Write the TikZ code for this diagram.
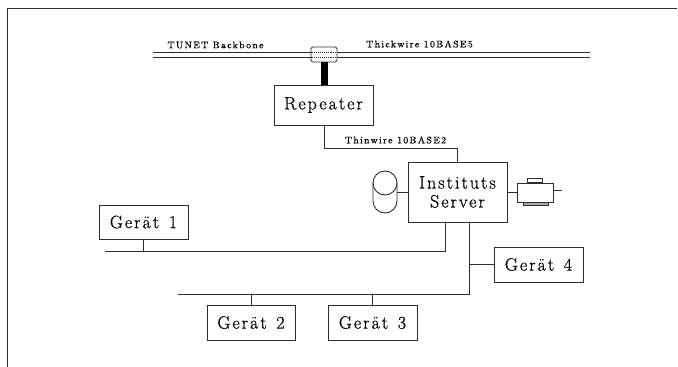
\documentclass[tikz,border=0pt]{standalone}
\usepackage{fontspec}
\usepackage{xcolor}
\usepackage{tikz}
\newfontfamily\boxfont[LetterSpace=11,WordSpace=1.3,FakeBold=0.6]{Latin Modern Roman}
\newfontfamily\wirefont[LetterSpace=14,FakeBold=0.5]{Latin Modern Roman}
\definecolor{scanink}{RGB}{45, 45, 45}
\tikzset{
    wire/.style={draw=scanink, line width=0.9pt},
    devicebox/.style={draw=scanink, line width=0.9pt, inner sep=0pt, text=black, font=\boxfont\fontsize{18}{19}\selectfont},
    wirelabel/.style={inner sep=0pt, text=black, font=\wirefont\fontsize{9.5}{11}\selectfont}
}

\begin{document}
\begin{tikzpicture}[x=1pt, y=-1pt]

\useasboundingbox (0,0) rectangle (678,367);

% Page frame
\coordinate (frametop) at (677,8);
\coordinate (framecorner) at (7,8);
\coordinate (framebottom) at (7,367);
\draw[wire] (frametop) -- (framecorner) -- (framebottom);

% Backbone
\coordinate (backboneAw) at (153,52);
\coordinate (backboneAe) at (590,52);
\coordinate (backboneBw) at (153,57);
\coordinate (backboneBe) at (590,57);
\draw[wire] (backboneAw) -- (backboneAe);
\draw[wire] (backboneBw) -- (backboneBe);
\node[wirelabel] (tunet) at (215.5,45) {TUNET Backbone};
\node[wirelabel] (thick) at (419.5,44) {Thickwire 10BASE5};

% Repeater with tap
\node[devicebox, fill=white, rounded corners=1.5pt, minimum width=26pt, minimum height=15pt] (tap) at (324,54.5) {};
\draw[wire, densely dotted] (backboneAw -| tap.west) -- (backboneAw -| tap.east);
\draw[wire, densely dotted] (backboneBw -| tap.west) -- (backboneBw -| tap.east);
\node[devicebox, minimum width=99pt, minimum height=40pt] (repeater) at (323.5,105) {Repeater};
\draw[draw=black, line width=7pt] (tap.south) -- (tap.south |- repeater.north);

% Server
\node[devicebox, minimum width=99pt, minimum height=60pt, align=center] (server) at (457.5,192) {Instituts\\Server};
\coordinate (thinA) at (324,148);
\coordinate (thinB) at (457,148);
\draw[wire] (repeater.south -| thinA) -- (thinA) -- (thinB) -- (thinB |- server.north);
\node[wirelabel] (thin) at (395.5,140) {Thinwire 10BASE2};

% Disk
\node[minimum width=24pt, minimum height=42pt, inner sep=0pt] (disk) at (385,192) {};
\coordinate (diskA) at (373,183);
\coordinate (diskB) at (397,201);
\draw[wire] (diskA) arc[start angle=180, end angle=0, radius=12pt]
    -- (diskB) arc[start angle=0, end angle=-180, radius=12pt] -- cycle;
\draw[wire] (diskA) arc[start angle=180, end angle=360, radius=12pt];
\draw[wire] (disk.east) -- (server.west);

% Printer
\node[devicebox, minimum width=36pt, minimum height=19pt] (printer) at (535,192.5) {};
\node[draw=scanink, line width=0.9pt, inner sep=0pt, minimum width=15pt, minimum height=4pt, anchor=south] (paper) at (534.5,183) {};
\node[draw=scanink, fill=scanink!40, line width=0.9pt, inner sep=0pt, minimum width=25pt, minimum height=3pt, anchor=north] (tray) at (535.5,202) {};
\coordinate (printerout) at (562,190);
\draw[wire] (server.east |- printer.west) -- (printer.west);
\draw[wire] (printer.east |- printerout) -- (printerout);

% Geraete 1 to 3
\node[devicebox, minimum width=89pt, minimum height=34pt] (geraetA) at (143.5,222) {Gerät 1};
\node[devicebox, minimum width=88pt, minimum height=35pt] (geraetB) at (251,322.5) {Gerät 2};
\node[devicebox, minimum width=89pt, minimum height=35pt] (geraetC) at (372.5,322.5) {Gerät 3};
\node[devicebox, minimum width=89pt, minimum height=35pt] (geraetD) at (538.5,264.5) {Gerät 4};

% Bus lines
\coordinate (busAw) at (105,251);
\coordinate (busAe) at (445,251);
\coordinate (busBw) at (178,294);
\coordinate (busBe) at (469,294);
\draw[wire] (busAw) -- (busAe) -- (busAe |- server.south);
\draw[wire] (busBw) -- (busBe) -- (busBe |- server.south);
\draw[wire] (geraetA.south) -- (geraetA.south |- busAw);
\foreach \name in {geraetB, geraetC} {
    \draw[wire] (\name.north) -- (\name.north |- busBw);
}
\draw[wire] (geraetD.west) -- (geraetD.west -| busBe);

\end{tikzpicture}
\end{document}
